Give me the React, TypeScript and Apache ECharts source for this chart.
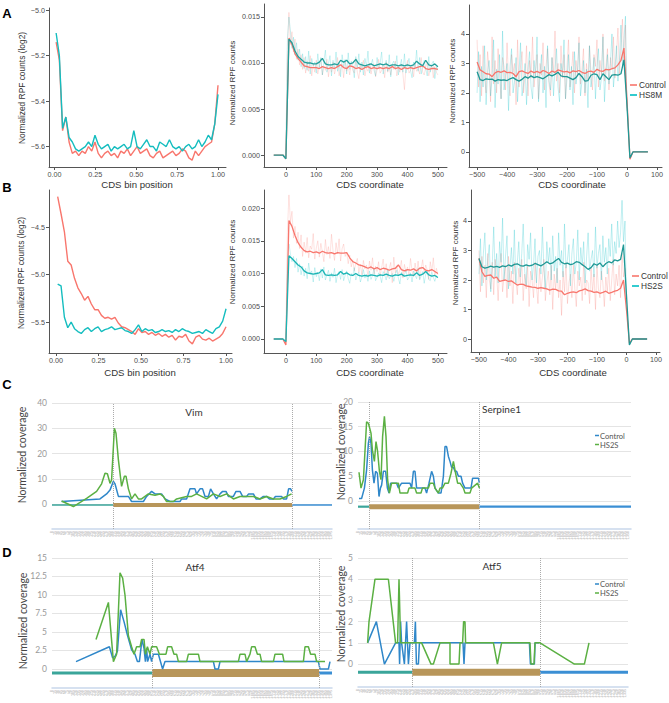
import React, { useEffect, useRef } from 'react';
import * as echarts from 'echarts';

// ---------- colours ----------
const RED = '#F8766D';
const TEAL = '#00BFC4';
const TEAL_DK = '#1F9895';
const BLUE = '#2F87C9';
const GREEN = '#5BB043';
const CDS_BROWN = '#B8965A';
const UTR5 = '#3AA59A';
const UTR3 = '#3B8FD4';

// ---------- helpers for x positions (bins / nucleotide grid) ----------
const seq = (start: number, step: number, n: number) =>
  Array.from({ length: n }, (_, i) => +(start + i * step).toFixed(4));
const zip = (xs: number[], ys: number[]) => ys.map((y, i) => [xs[i], y]);

// ---------- Panel A/B left: CDS bins ----------
const binPos = seq(0.01, 0.0198, 51);
const a1Control = [-5.14, -5.22, -5.53, -5.47, -5.58, -5.63, -5.62, -5.64, -5.62, -5.63, -5.60, -5.62, -5.58, -5.63, -5.65, -5.63, -5.62, -5.64, -5.63, -5.65, -5.62, -5.63, -5.61, -5.64, -5.62, -5.60, -5.63, -5.62, -5.61, -5.64, -5.65, -5.63, -5.62, -5.65, -5.64, -5.63, -5.62, -5.64, -5.63, -5.61, -5.62, -5.65, -5.66, -5.62, -5.64, -5.62, -5.60, -5.59, -5.58, -5.50, -5.33];
const a1HS8M = [-5.10, -5.20, -5.52, -5.47, -5.56, -5.58, -5.61, -5.62, -5.61, -5.60, -5.58, -5.60, -5.55, -5.59, -5.61, -5.60, -5.59, -5.62, -5.60, -5.61, -5.60, -5.59, -5.61, -5.60, -5.53, -5.60, -5.61, -5.59, -5.57, -5.60, -5.60, -5.62, -5.58, -5.59, -5.60, -5.57, -5.60, -5.61, -5.60, -5.62, -5.60, -5.59, -5.61, -5.60, -5.57, -5.60, -5.58, -5.55, -5.57, -5.50, -5.37];
const b1Control = [-4.18, -4.36, -4.55, -4.86, -4.90, -5.04, -5.14, -5.20, -5.27, -5.23, -5.31, -5.37, -5.37, -5.43, -5.46, -5.45, -5.47, -5.45, -5.51, -5.55, -5.56, -5.58, -5.60, -5.63, -5.57, -5.61, -5.60, -5.63, -5.61, -5.64, -5.62, -5.65, -5.63, -5.66, -5.64, -5.69, -5.65, -5.66, -5.63, -5.70, -5.73, -5.66, -5.64, -5.68, -5.69, -5.67, -5.70, -5.68, -5.66, -5.62, -5.55];
const b1HS2S = [-5.10, -5.12, -5.45, -5.56, -5.50, -5.57, -5.60, -5.62, -5.58, -5.56, -5.60, -5.57, -5.55, -5.60, -5.58, -5.57, -5.55, -5.58, -5.57, -5.56, -5.59, -5.60, -5.62, -5.58, -5.53, -5.60, -5.57, -5.59, -5.58, -5.61, -5.60, -5.58, -5.60, -5.59, -5.61, -5.58, -5.60, -5.57, -5.59, -5.60, -5.62, -5.61, -5.60, -5.62, -5.58, -5.60, -5.62, -5.57, -5.55, -5.49, -5.36];

// ---------- Panel A/B middle: start-codon aligned ----------
const startPos = seq(-40, 10, 55);
const a2Control = [0, 0, 0, 0, -0.0004, 0.0127, 0.0120, 0.0110, 0.0105, 0.0101, 0.0097, 0.0096, 0.0095, 0.0095, 0.0095, 0.0094, 0.0096, 0.0095, 0.0094, 0.0095, 0.0094, 0.0096, 0.0098, 0.0095, 0.0094, 0.0097, 0.0096, 0.0094, 0.0095, 0.0093, 0.0095, 0.0096, 0.0094, 0.0095, 0.0094, 0.0095, 0.0094, 0.0095, 0.0094, 0.0096, 0.0094, 0.0095, 0.0093, 0.0095, 0.0094, 0.0095, 0.0094, 0.0095, 0.0096, 0.0097, 0.0094, 0.0093, 0.0094, 0.0094, 0.0093];
const a2HS8M = [0, 0, 0, 0, -0.0004, 0.0126, 0.0122, 0.0113, 0.0107, 0.0104, 0.0101, 0.0100, 0.0100, 0.0099, 0.0099, 0.0101, 0.0105, 0.0099, 0.0098, 0.0098, 0.0099, 0.0098, 0.0103, 0.0101, 0.0103, 0.0099, 0.0100, 0.0104, 0.0099, 0.0098, 0.0097, 0.0098, 0.0099, 0.0097, 0.0098, 0.0099, 0.0098, 0.0099, 0.0097, 0.0098, 0.0098, 0.0097, 0.0098, 0.0097, 0.0098, 0.0097, 0.0098, 0.0102, 0.0099, 0.0097, 0.0103, 0.0098, 0.0097, 0.0099, 0.0096];
const b2Control = [0, 0, 0, 0, -0.0009, 0.0181, 0.0172, 0.0158, 0.0147, 0.0140, 0.0135, 0.0133, 0.0134, 0.0132, 0.0133, 0.0131, 0.0134, 0.0132, 0.0131, 0.0132, 0.0130, 0.0132, 0.0131, 0.0131, 0.0132, 0.0124, 0.0118, 0.0116, 0.0113, 0.0112, 0.0110, 0.0108, 0.0110, 0.0107, 0.0109, 0.0106, 0.0108, 0.0107, 0.0105, 0.0107, 0.0108, 0.0113, 0.0106, 0.0104, 0.0106, 0.0105, 0.0107, 0.0104, 0.0108, 0.0109, 0.0105, 0.0104, 0.0106, 0.0103, 0.0100];
const b2HS2S = [0, 0, 0, 0, -0.0004, 0.0127, 0.0123, 0.0118, 0.0113, 0.0110, 0.0104, 0.0101, 0.0100, 0.0099, 0.0100, 0.0101, 0.0106, 0.0098, 0.0097, 0.0098, 0.0097, 0.0098, 0.0103, 0.0099, 0.0101, 0.0098, 0.0097, 0.0100, 0.0097, 0.0096, 0.0097, 0.0096, 0.0098, 0.0097, 0.0096, 0.0098, 0.0097, 0.0099, 0.0097, 0.0096, 0.0098, 0.0097, 0.0099, 0.0096, 0.0097, 0.0098, 0.0097, 0.0101, 0.0097, 0.0099, 0.0103, 0.0098, 0.0096, 0.0097, 0.0094];

// raw per-nucleotide traces (per mille), x = 0, 5, 10 ... 500
const PER_MILLE = 1000;
const a2ControlRaw = [0.3, 11.8, 15.5, 12.0, 13.4, 11.2, 12.6, 10.4, 11.5, 9.8, 10.9, 9.3, 10.6, 8.9, 10.2, 9.1, 10.8, 8.6, 9.9, 9.0, 10.3, 8.8, 9.7, 10.5, 8.7, 9.6, 9.2, 10.4, 8.5, 9.8, 9.0, 10.1, 8.8, 9.5, 10.6, 8.6, 9.3, 9.9, 8.4, 10.2, 9.1, 9.7, 8.7, 10.0, 9.2, 8.9, 10.5, 9.0, 8.3, 9.8, 9.4, 10.3, 8.6, 9.5, 9.1, 10.0, 8.8, 9.6, 9.9, 8.5, 9.3, 10.4, 8.9, 9.2, 9.7, 8.4, 10.1, 9.0, 9.5, 8.7, 9.8, 9.3, 10.2, 8.6, 9.4, 9.0, 9.9, 8.8, 7.1, 9.6, 10.3, 8.9, 9.2, 9.7, 8.5, 10.0, 9.1, 9.4, 8.8, 10.6, 9.0, 8.7, 9.5, 10.1, 8.6, 9.3, 9.8, 8.4, 9.6, 9.0, 8.7];
const a2HS8MRaw = [0.2, 12.5, 15.0, 13.5, 11.6, 12.8, 10.9, 12.2, 10.3, 11.5, 9.6, 11.0, 9.4, 10.7, 9.2, 11.3, 8.8, 10.5, 9.7, 10.1, 8.9, 11.0, 9.5, 10.6, 8.7, 10.2, 11.4, 9.0, 9.9, 10.8, 8.6, 10.3, 9.4, 11.2, 9.1, 10.0, 8.5, 10.9, 9.6, 10.4, 8.8, 11.1, 9.3, 10.2, 9.8, 8.4, 10.7, 9.5, 11.0, 9.0, 10.1, 8.7, 10.5, 9.6, 11.3, 8.9, 9.8, 10.4, 9.2, 8.6, 10.6, 9.4, 10.0, 11.2, 8.8, 9.7, 10.3, 9.1, 10.9, 8.5, 9.9, 10.2, 9.3, 10.8, 8.7, 9.6, 10.4, 9.0, 11.0, 8.9, 9.8, 10.5, 9.2, 8.4, 10.1, 9.5, 11.4, 9.1, 10.6, 8.8, 9.7, 10.3, 9.4, 8.6, 10.7, 9.0, 9.9, 10.2, 8.3, 9.6, 9.2];
const b2ControlRaw = [0.2, 16.5, 22.0, 17.8, 19.5, 15.4, 17.2, 14.6, 16.3, 13.8, 15.9, 12.6, 14.8, 13.1, 15.5, 12.4, 14.2, 13.7, 16.1, 12.2, 13.9, 15.0, 12.5, 14.6, 13.3, 11.8, 15.2, 12.9, 14.1, 12.3, 16.0, 13.5, 12.0, 14.7, 13.0, 15.3, 11.9, 13.8, 14.5, 12.6, 13.2, 11.5, 12.8, 11.0, 12.1, 10.4, 11.6, 12.3, 10.2, 11.4, 9.8, 12.0, 10.7, 11.3, 9.5, 11.9, 10.5, 12.4, 9.9, 11.1, 10.3, 11.8, 9.6, 10.9, 12.2, 10.0, 11.5, 9.4, 10.8, 11.7, 8.6, 12.5, 10.1, 11.2, 9.7, 10.6, 12.0, 9.3, 11.4, 10.2, 11.0, 9.8, 12.3, 10.4, 9.5, 11.6, 10.0, 11.9, 9.2, 10.7, 12.1, 9.9, 11.3, 10.5, 9.1, 11.8, 10.3, 12.4, 9.6, 10.8, 9.8];
const b2HS2SRaw = [0.1, 12.0, 14.5, 13.0, 11.8, 12.6, 10.9, 12.3, 10.2, 11.5, 9.8, 11.1, 9.6, 10.8, 9.2, 11.6, 9.9, 10.4, 8.7, 10.9, 9.5, 10.2, 8.9, 10.7, 9.3, 11.0, 9.0, 9.8, 10.5, 8.8, 10.1, 9.4, 10.8, 8.6, 9.9, 10.3, 9.1, 10.6, 8.9, 9.7, 10.4, 9.2, 8.5, 10.0, 9.6, 10.9, 9.0, 9.8, 10.2, 8.7, 9.5, 10.6, 9.3, 9.9, 8.8, 10.4, 9.1, 9.7, 10.8, 8.9, 9.4, 10.1, 9.6, 8.6, 10.3, 9.8, 9.0, 10.7, 9.2, 9.6, 10.0, 8.8, 9.9, 10.5, 9.3, 8.4, 10.2, 9.5, 9.8, 10.6, 9.0, 9.4, 10.1, 8.7, 10.4, 9.7, 9.2, 10.8, 9.0, 9.6, 10.3, 8.5, 9.9, 10.5, 9.1, 8.9, 10.2, 9.4, 8.8, 9.7, 9.3];

// ---------- Panel A/B right: stop-codon aligned ----------
const stopPos = seq(-500, 10, 58);
const a3Control = [3.05, 2.78, 2.72, 2.65, 2.64, 2.55, 2.68, 2.73, 2.70, 2.75, 2.69, 2.70, 2.66, 2.55, 2.72, 2.75, 2.70, 2.66, 2.74, 2.69, 2.73, 2.68, 2.76, 2.72, 2.66, 2.74, 2.70, 2.78, 2.75, 2.71, 2.73, 2.68, 2.75, 2.72, 2.76, 2.70, 2.66, 2.72, 2.74, 2.70, 2.80, 2.75, 2.73, 2.80, 2.78, 2.82, 2.85, 2.95, 3.10, 3.52, 1.8, -0.25, 0, 0, 0, 0, 0, 0];
const a3HS8M = [2.72, 2.45, 2.42, 2.48, 2.46, 2.47, 2.40, 2.45, 2.43, 2.44, 2.42, 2.48, 2.52, 2.45, 2.40, 2.46, 2.55, 2.50, 2.58, 2.52, 2.55, 2.52, 2.48, 2.55, 2.62, 2.58, 2.63, 2.70, 2.58, 2.55, 2.55, 2.50, 2.45, 2.52, 2.66, 2.55, 2.40, 2.42, 2.60, 2.65, 2.62, 2.45, 2.65, 2.55, 2.45, 2.60, 2.62, 2.60, 2.65, 3.12, 1.6, -0.2, 0, 0, 0, 0, 0, 0];
const b3Control = [2.73, 2.28, 2.12, 2.16, 2.17, 2.06, 2.10, 1.95, 1.98, 2.00, 1.95, 1.97, 1.90, 1.83, 1.86, 1.85, 1.80, 1.78, 1.76, 1.75, 1.72, 1.74, 1.72, 1.70, 1.66, 1.69, 1.68, 1.63, 1.62, 1.50, 1.55, 1.58, 1.60, 1.57, 1.63, 1.66, 1.70, 1.64, 1.62, 1.58, 1.60, 1.55, 1.58, 1.62, 1.55, 1.58, 1.62, 1.65, 1.72, 2.00, 1.0, -0.15, 0, 0, 0, 0, 0, 0];
const b3HS2S = [2.73, 2.45, 2.40, 2.43, 2.47, 2.44, 2.46, 2.43, 2.48, 2.45, 2.51, 2.47, 2.53, 2.55, 2.49, 2.47, 2.51, 2.48, 2.50, 2.56, 2.52, 2.48, 2.54, 2.62, 2.55, 2.58, 2.66, 2.73, 2.60, 2.55, 2.57, 2.52, 2.55, 2.62, 2.60, 2.52, 2.45, 2.36, 2.42, 2.55, 2.50, 2.58, 2.45, 2.56, 2.62, 2.58, 2.68, 2.65, 2.70, 3.20, 1.5, -0.2, 0, 0, 0, 0, 0, 0];

// raw traces, x = -500, -495 ... 0
const a3ControlRaw = [3.8, 2.2, 3.3, 1.9, 3.6, 2.5, 2.0, 3.4, 2.8, 1.7, 3.9, 2.3, 3.1, 2.0, 3.5, 2.6, 1.8, 3.2, 2.9, 2.1, 3.7, 2.4, 1.9, 3.3, 2.7, 3.0, 1.6, 3.8, 2.2, 2.9, 3.4, 2.0, 2.6, 3.6, 1.9, 3.1, 2.5, 3.9, 2.2, 2.8, 3.3, 1.8, 3.0, 2.6, 3.7, 2.1, 2.9, 3.5, 2.3, 1.9, 3.2, 2.7, 4.1, 2.4, 3.0, 2.0, 3.6, 2.5, 3.3, 1.8, 2.9, 3.8, 2.2, 2.7, 3.4, 2.0, 3.1, 2.6, 3.9, 2.3, 2.8, 3.5, 1.9, 3.0, 2.4, 3.6, 2.7, 2.1, 3.3, 2.9, 3.8, 2.2, 3.1, 2.6, 4.0, 2.4, 2.9, 3.5, 2.1, 3.2, 2.8, 3.9, 2.5, 3.3, 4.2, 2.6, 3.6, 4.5, 3.0, 4.3, 1.5];
const a3HS8MRaw = [2.0, 3.4, 1.7, 2.9, 2.2, 3.6, 1.6, 2.7, 3.1, 1.9, 2.5, 3.8, 1.5, 2.8, 2.3, 3.3, 1.8, 4.1, 2.1, 2.6, 3.0, 1.4, 2.9, 3.5, 2.0, 2.4, 3.2, 1.7, 2.7, 3.7, 1.9, 2.3, 3.0, 1.6, 2.8, 3.4, 2.2, 1.8, 3.1, 2.5, 3.9, 1.7, 2.6, 3.3, 2.0, 2.9, 1.5, 3.6, 2.4, 2.1, 3.2, 1.9, 2.8, 3.5, 2.2, 1.7, 3.0, 2.6, 3.8, 1.8, 2.5, 3.3, 2.1, 2.9, 1.6, 3.4, 2.3, 2.7, 3.7, 1.9, 2.4, 3.1, 2.0, 2.8, 1.5, 3.6, 2.2, 2.6, 3.2, 1.8, 2.9, 3.5, 2.1, 2.5, 3.9, 1.7, 2.7, 3.3, 2.3, 3.0, 4.0, 2.2, 2.8, 3.6, 2.4, 3.1, 4.3, 2.9, 3.8, 4.6, 1.4];
const b3ControlRaw = [3.0, 1.6, 2.8, 1.9, 2.5, 1.4, 2.9, 2.0, 1.7, 2.6, 1.5, 2.7, 2.2, 1.3, 2.4, 2.9, 1.6, 2.1, 2.5, 1.4, 2.8, 1.8, 2.3, 1.2, 2.6, 2.0, 1.5, 2.4, 1.9, 2.7, 1.3, 2.2, 1.7, 2.5, 1.1, 2.3, 2.0, 1.4, 2.6, 1.8, 1.2, 2.4, 1.6, 2.1, 2.7, 1.3, 1.9, 2.3, 1.5, 2.5, 1.0, 2.2, 1.7, 2.4, 1.4, 2.0, 0.8, 2.3, 1.6, 2.6, 1.2, 1.9, 2.2, 1.4, 2.5, 1.7, 1.1, 2.3, 1.8, 2.1, 1.3, 2.6, 1.5, 2.0, 1.9, 1.2, 2.4, 1.6, 2.2, 1.0, 2.5, 1.7, 1.4, 2.3, 1.9, 1.1, 2.1, 1.6, 2.4, 1.3, 2.0, 2.7, 1.5, 2.2, 1.8, 2.5, 1.4, 2.9, 2.1, 2.4, 1.0];
const b3HS2SRaw = [2.2, 3.4, 1.8, 2.9, 3.6, 2.0, 2.7, 3.2, 1.6, 2.5, 3.8, 2.1, 2.9, 1.9, 3.3, 2.6, 4.1, 2.0, 2.8, 3.5, 1.7, 2.4, 3.1, 2.2, 3.7, 1.9, 2.6, 3.3, 2.1, 2.9, 3.9, 2.3, 1.8, 3.2, 2.7, 3.6, 2.0, 2.5, 3.4, 1.9, 2.8, 3.0, 2.2, 3.8, 2.4, 1.7, 3.3, 2.6, 3.1, 2.0, 3.5, 2.3, 2.8, 1.9, 3.6, 2.5, 3.0, 2.1, 3.9, 2.4, 2.7, 3.2, 1.8, 2.9, 3.4, 2.2, 2.6, 3.7, 2.0, 3.1, 2.5, 3.3, 1.9, 2.8, 3.6, 2.3, 2.7, 3.0, 2.1, 3.8, 2.4, 2.9, 3.2, 2.0, 3.5, 2.6, 3.1, 2.2, 3.4, 2.8, 3.9, 2.5, 3.3, 2.9, 4.0, 3.1, 3.6, 4.7, 3.3, 4.0, 1.2];

// ---------- Panels C/D: coverage along transcripts [position, coverage] ----------
const vimControl = [[48, 1], [240, 2], [273, 4], [290, 5.5], [307, 9], [315, 8], [332, 3], [382, 3], [398, 1], [457, 1], [473, 3], [498, 5], [515, 4], [548, 4], [565, 2], [590, 1], [640, 1], [648, 2], [673, 2], [690, 6], [715, 6], [723, 4], [740, 6], [753, 6], [765, 3], [782, 3], [793, 6], [807, 4], [823, 2], [840, 4], [853, 5], [870, 5], [882, 3], [907, 3], [920, 5], [940, 5], [953, 3], [973, 3], [983, 4], [1007, 4], [1020, 2], [1040, 2], [1057, 3], [1073, 3], [1087, 2], [1107, 2], [1117, 3], [1148, 3], [1157, 2], [1173, 2], [1183, 6], [1193, 6], [1200, 5]];
const vimHS2S = [[48, 1.2], [107, -1], [173, 2.2], [223, 5], [248, 8], [265, 12.2], [277, 12], [290, 8.2], [298, 9.5], [312, 30], [320, 28], [332, 17.5], [348, 7], [362, 11], [370, 11], [382, 6], [398, 2], [415, 4], [432, 2], [448, 2], [465, 3], [482, 4], [515, 3.5], [540, 4], [557, 3], [573, 1], [607, 1], [623, 2], [673, 3], [698, 3], [723, 4], [748, 3], [773, 2], [807, 4], [840, 3], [873, 4], [907, 2], [940, 3], [1007, 3], [1040, 2], [1073, 3], [1107, 2], [1140, 2], [1173, 3], [1198, 4]];
const serpControl = [[5, 0.5], [18, 0.5], [32, 2.6], [43, 6.3], [52, 11.7], [58, 13], [65, 11.7], [72, 6.3], [80, 3.6], [88, 6], [97, 5.6], [105, 0.9], [112, 2.6], [118, 3.2], [127, 6], [138, 6], [147, 2.6], [155, 1.6], [163, 3.6], [193, 3.6], [202, 2.6], [218, 3.6], [260, 3.6], [268, 2.6], [277, 6], [285, 6], [293, 2.6], [335, 2.6], [343, 1.6], [355, 3.6], [368, 6], [377, 5], [385, 2.6], [402, 1.6], [415, 1.6], [427, 5], [435, 11], [443, 11], [452, 9], [460, 8], [468, 6.8], [477, 6.8], [485, 6], [493, 6], [502, 5], [515, 5], [523, 3.6], [535, 2.6], [565, 2.6], [573, 4.6], [602, 4.6], [607, 3.6]];
const serpHS2S = [[5, 5.8], [15, 2.6], [27, 4.3], [43, 16], [52, 15.7], [65, 13.7], [72, 10.3], [82, 8], [90, 12], [98, 10], [107, 6], [115, 4.3], [123, 13], [132, 17.1], [140, 13], [148, 4.3], [157, 1.6], [168, 3.6], [202, 3.6], [210, 1.6], [248, 1.6], [255, 2.6], [285, 2.6], [293, 1.6], [315, 1.6], [322, 2.6], [352, 2.6], [360, 3.6], [377, 3.6], [385, 2.6], [402, 1.6], [410, 2.6], [422, 2.6], [435, 3.6], [452, 3.6], [465, 5.6], [477, 8], [488, 5.6], [498, 3.6], [510, 3.6], [527, 2.6], [535, 1.6], [560, 1.6], [568, 2.6], [598, 3.6], [607, 2.6]];
const atf4Control = [[120, 1], [287, 3], [303, 1.5], [315, 1.7], [327, 2.4], [343, 8], [360, 6.4], [377, 4.6], [398, 2.6], [415, 2], [427, 1], [437, 1], [450, 4], [460, 2.8], [467, 1], [473, 2.8], [478, 1], [490, 2], [498, 1], [507, 2], [532, 2], [553, 0], [565, 1], [807, 1], [815, 0], [832, 0], [840, 1], [1332, 1], [1340, 0], [1382, 0], [1390, 1]];
const atf4HS2S = [[220, 4], [282, 9], [307, 1], [323, 2], [340, 13], [353, 12.3], [365, 10], [382, 4.5], [398, 3], [410, 2], [423, 3], [440, 3], [448, 4], [460, 4], [467, 2], [477, 3], [490, 2], [498, 3], [523, 3], [537, 2], [570, 2], [578, 3], [598, 3], [610, 2], [623, 2], [632, 1], [673, 1], [682, 2], [732, 2], [740, 1], [932, 1], [940, 2], [965, 2], [973, 1], [990, 2], [998, 3], [1015, 3], [1027, 2], [1040, 2], [1048, 1], [1107, 1], [1115, 2], [1153, 2], [1160, 1], [1257, 1], [1265, 3], [1282, 3], [1293, 2], [1315, 2], [1323, 1], [1365, 1]];
const atf5Control = [[48, 1], [92, 2], [132, 0], [188, 1], [205, 1], [208, 0], [213, 2], [218, 1], [232, 0], [243, 2], [252, 0], [260, 1], [282, 1], [287, 2], [292, 0], [302, 0], [307, 1], [525, 1], [530, 0], [535, 1], [857, 1], [862, 0], [882, 0], [885, 1], [905, 1]];
const atf5HS2S = [[48, 1], [55, 2], [85, 4], [152, 4], [188, 1], [198, 1], [205, 4], [213, 1], [318, 1], [365, 0], [377, 0], [410, 1], [460, 1], [460, 0], [505, 0], [510, 1], [523, 1], [528, 2], [535, 2], [538, 1], [677, 1], [697, 0], [718, 1], [860, 1], [865, 0], [880, 0], [885, 1], [910, 1], [1082, 0], [1132, 0], [1155, 1]];

// transcript models: [length, cdsStart, cdsEnd, trackLevel]
const vimModel = [1400, 305, 1200, -0.4];
const serpModel = [1365, 55, 605, -1.15];
const atf4Model = [1400, 500, 1335, -0.54];
const atf5Model = [1350, 270, 910, -0.38];

// tick labels
const binTicks = [0, 0.25, 0.5, 0.75, 1];
const a1YTicks = [-5.6, -5.4, -5.2, -5.0];
const b1YTicks = [-5.5, -5.0, -4.5];
const startXTicks = [0, 100, 200, 300, 400, 500];
const a2YTicks = [0, 0.005, 0.01, 0.015];
const b2YTicks = [0, 0.005, 0.01, 0.015, 0.02];
const stopXTicks = [-500, -400, -300, -200, -100, 0, 100];
const stopYTicks = [0, 1, 2, 3, 4];
const vimYTicks = [0, 10, 20, 30, 40];
const serpYTicks = [0, 5, 10, 15, 20];
const atf4YTicks = [0, 2.5, 5, 7.5, 10, 12.5, 15];
const atf5YTicks = [0, 1, 2, 3, 4, 5];

const minus = (s: string) => s.replace('-', '\u2212');
const AX = '#555555';
const GG_FONT = 'Liberation Sans';
const XL_FONT = 'Lato';
const TITLE_COLOR = '#333333';

function buildOption() {
  const grids: any[] = [];
  const xAxes: any[] = [];
  const yAxes: any[] = [];
  const series: any[] = [];
  const graphic: any[] = [];

  const ggPanel = (g: any) => {
    const i = grids.length;
    grids.push({ left: g.left, top: g.top, width: g.width, height: g.height });
    xAxes.push({
      type: 'value', gridIndex: i, min: g.xMin, max: g.xMax,
      axisLine: { show: true, onZero: false, lineStyle: { color: AX, width: 1 } },
      axisTick: { show: true, length: 3, customValues: g.xTicks, lineStyle: { color: AX } },
      axisLabel: { customValues: g.xTicks, fontSize: 7.2, color: '#4d4d4d', margin: 4, fontFamily: GG_FONT, formatter: g.xFmt },
      splitLine: { show: false },
    });
    yAxes.push({
      type: 'value', gridIndex: i, min: g.yMin, max: g.yMax,
      axisLine: { show: true, onZero: false, lineStyle: { color: AX, width: 1 } },
      axisTick: { show: true, length: 3, customValues: g.yTicks, lineStyle: { color: AX } },
      axisLabel: { customValues: g.yTicks, fontSize: 7.2, color: '#4d4d4d', margin: 4, fontFamily: GG_FONT, formatter: g.yFmt },
      splitLine: { show: false },
    });
    return i;
  };
  const line = (i: number, data: any[], color: string, width: number, opacity = 1, z = 2) => {
    series.push({
      type: 'line', xAxisIndex: i, yAxisIndex: i, data, symbol: 'none', silent: true, z,
      lineStyle: { color, width, opacity }, itemStyle: { color },
    });
  };
  const txt = (text: string, x: number, y: number, o: any = {}) => {
    graphic.push({
      type: 'text', x, y, rotation: o.rot || 0, silent: true, z: 100,
      style: {
        text, fill: o.color || TITLE_COLOR, fontSize: o.size || 9.6, fontFamily: o.family || GG_FONT,
        fontWeight: o.weight || 'normal', align: o.align || 'center', verticalAlign: 'middle',
      },
    });
  };
  const legendItem = (x: number, y: number, color: string, label: string, o: any) => {
    graphic.push({ type: 'line', silent: true, z: 100, shape: { x1: x, y1: y, x2: x + o.len, y2: y }, style: { stroke: color, lineWidth: o.lw } });
    txt(label, x + o.len + o.gap, y, { align: 'left', size: o.size, color: o.color, family: o.family });
  };
  const fmt2 = (v: number) => minus(v.toFixed(2));
  const fmt1 = (v: number) => minus(v.toFixed(1));
  const fmt3 = (v: number) => v.toFixed(3);
  const fmtInt = (v: number) => minus(String(Math.round(v)));

  // ---------- A1 ----------
  const a1 = ggPanel({ left: 49, top: 8, width: 177, height: 159, xMin: -0.0336, xMax: 1.0489, yMin: -5.69, yMax: -4.99, xTicks: binTicks, yTicks: a1YTicks, xFmt: fmt2, yFmt: fmt1 });
  line(a1, zip(binPos, a1Control), RED, 1.4, 1, 3);
  line(a1, zip(binPos, a1HS8M), '#14BDBF', 1.4, 1, 4);
  // ---------- A2 ----------
  const a2 = ggPanel({ left: 264, top: 4, width: 183, height: 163, xMin: -72, xMax: 530, yMin: -0.0013, yMax: 0.01641, xTicks: startXTicks, yTicks: a2YTicks, xFmt: fmtInt, yFmt: fmt3 });
  line(a2, zip(seq(0, 5, a2ControlRaw.length), a2ControlRaw.map(v => v / PER_MILLE)), RED, 0.7, 0.3, 1);
  line(a2, zip(seq(0, 5, a2HS8MRaw.length), a2HS8MRaw.map(v => v / PER_MILLE)), TEAL, 0.7, 0.3, 1);
  line(a2, zip(startPos, a2Control), RED, 1.3, 1, 3);
  line(a2, zip(startPos, a2HS8M), '#23A09C', 1.3, 1, 4);
  // ---------- A3 ----------
  const a3 = ggPanel({ left: 469, top: 5, width: 193, height: 162, xMin: -527, xMax: 117, yMin: -0.51, yMax: 4.98, xTicks: stopXTicks, yTicks: stopYTicks, xFmt: fmtInt, yFmt: fmtInt });
  line(a3, zip(seq(-500, 5, a3ControlRaw.length), a3ControlRaw), RED, 0.7, 0.35, 1);
  line(a3, zip(seq(-500, 5, a3HS8MRaw.length), a3HS8MRaw), TEAL, 0.7, 0.35, 1);
  line(a3, zip(stopPos, a3Control), RED, 1.3, 1, 3);
  line(a3, zip(stopPos, a3HS8M), TEAL_DK, 1.3, 1, 4);
  // ---------- B1 ----------
  const b1 = ggPanel({ left: 49, top: 190, width: 183, height: 163, xMin: -0.041, xMax: 1.035, yMin: -5.826, yMax: -4.11, xTicks: binTicks, yTicks: b1YTicks, xFmt: fmt2, yFmt: fmt1 });
  line(b1, zip(binPos, b1Control), RED, 1.4, 1, 3);
  line(b1, zip(binPos, b1HS2S), '#14BDBF', 1.4, 1, 4);
  // ---------- B2 ----------
  const b2 = ggPanel({ left: 264, top: 190, width: 183, height: 163, xMin: -72, xMax: 530, yMin: -0.00214, yMax: 0.02275, xTicks: startXTicks, yTicks: b2YTicks, xFmt: fmtInt, yFmt: fmt3 });
  line(b2, zip(seq(0, 5, b2ControlRaw.length), b2ControlRaw.map(v => v / PER_MILLE)), RED, 0.7, 0.3, 1);
  line(b2, zip(seq(0, 5, b2HS2SRaw.length), b2HS2SRaw.map(v => v / PER_MILLE)), TEAL, 0.7, 0.3, 1);
  line(b2, zip(startPos, b2Control), RED, 1.3, 1, 3);
  line(b2, zip(startPos, b2HS2S), '#1AB5B5', 1.3, 1, 4);
  // ---------- B3 ----------
  const b3 = ggPanel({ left: 471, top: 190, width: 189, height: 162, xMin: -527, xMax: 113.7, yMin: -0.44, yMax: 5.05, xTicks: stopXTicks, yTicks: stopYTicks, xFmt: fmtInt, yFmt: fmtInt });
  line(b3, zip(seq(-500, 5, b3ControlRaw.length), b3ControlRaw), RED, 0.7, 0.35, 1);
  line(b3, zip(seq(-500, 5, b3HS2SRaw.length), b3HS2SRaw), TEAL, 0.7, 0.35, 1);
  line(b3, zip(stopPos, b3Control), RED, 1.3, 1, 3);
  line(b3, zip(stopPos, b3HS2S), TEAL_DK, 1.3, 1, 4);

  // ggplot titles
  txt('Normalized RPF counts (log2)', 22, 88, { rot: Math.PI / 2, size: 8.4 });
  txt('CDS bin position', 137, 184, { size: 9.6 });
  txt('Normalized RPF counts', 232, 83, { rot: Math.PI / 2, size: 8 });
  txt('CDS coordinate', 370, 184, { size: 9.6 });
  txt('Normalized RPF counts', 452, 81, { rot: Math.PI / 2, size: 8 });
  txt('CDS coordinate', 572, 184, { size: 9.6 });
  txt('Normalized RPF counts (log2)', 21, 273, { rot: Math.PI / 2, size: 8.4 });
  txt('CDS bin position', 140, 372, { size: 9.6 });
  txt('Normalized RPF counts', 232, 262, { rot: Math.PI / 2, size: 8 });
  txt('CDS coordinate', 370, 372, { size: 9.6 });
  txt('Normalized RPF counts', 455, 263, { rot: Math.PI / 2, size: 8 });
  txt('CDS coordinate', 573, 372, { size: 9.6 });
  const ggLeg = { len: 7, gap: 2, lw: 1.6, size: 8.3, color: '#333', family: GG_FONT };
  legendItem(630, 85, RED, 'Control', ggLeg);
  legendItem(630, 95, TEAL, 'HS8M', ggLeg);
  legendItem(632, 276, RED, 'Control', ggLeg);
  legendItem(632, 286, TEAL, 'HS2S', ggLeg);

  // ---------- coverage panels ----------
  const covPanel = (g: any, model: number[], ctl: number[][], hs: number[][], t: any) => {
    const i = grids.length;
    const [len, cs, ce, lvl] = model;
    grids.push({ left: g.left, top: g.top, width: g.width, height: g.height });
    xAxes.push({
      type: 'value', gridIndex: i, min: 0, max: len, interval: 15,
      axisLine: { show: true, onZero: false, lineStyle: { color: '#C9D8EC', width: 1.5 } },
      axisTick: { show: false },
      axisLabel: { show: true, rotate: 90, fontSize: 3.4, color: '#9a9a9a', margin: 2, fontFamily: XL_FONT, showMaxLabel: false },
      splitLine: { show: false },
    });
    yAxes.push({
      type: 'value', gridIndex: i, min: g.yMin, max: g.yMax,
      axisLine: { show: false, onZero: false },
      axisTick: { show: false, customValues: g.yTicks },
      axisLabel: { customValues: g.yTicks, color: '#9a9a9a', fontSize: 8.5, margin: 5, fontFamily: XL_FONT },
      splitLine: { show: true, lineStyle: { color: '#E4E4E4', width: 1 } },
    });
    const base = { type: 'line', xAxisIndex: i, yAxisIndex: i, symbol: 'none', silent: true };
    series.push({ ...base, z: 2, data: [[0, lvl], [cs, lvl]], lineStyle: { color: UTR5, width: g.utrW } });
    series.push({ ...base, z: 2, data: [[ce, lvl], [len, lvl]], lineStyle: { color: UTR3, width: g.utrW } });
    series.push({
      ...base, z: 3, data: [[cs, lvl], [ce, lvl]], lineStyle: { color: CDS_BROWN, width: g.cdsW },
      markLine: {
        symbol: 'none', silent: true, label: { show: false },
        lineStyle: { type: 'dotted', color: '#ABABAB', width: 1 },
        data: [{ xAxis: cs }, { xAxis: ce }],
      },
    });
    series.push({ ...base, z: 4, data: ctl, lineStyle: { color: BLUE, width: 1.5 } });
    series.push({ ...base, z: 5, data: hs, lineStyle: { color: GREEN, width: 1.5 } });
    txt(t.name, t.x, t.y, { size: 10, family: XL_FONT, color: '#333', align: t.align || 'center' });
    txt('Normalized coverage', t.yx, t.yy, { rot: Math.PI / 2, size: 10.5, family: XL_FONT, color: '#444' });
    if (t.leg) {
      const o = { len: 4, gap: 1, lw: 1.5, size: 7.6, color: '#555', family: XL_FONT };
      legendItem(t.leg[0], t.leg[1], BLUE, 'Control', o);
      legendItem(t.leg[0], t.leg[2], GREEN, 'HS2S', o);
    }
  };

  covPanel({ left: 52, top: 403, width: 280, height: 126, yMin: -9.9, yMax: 40, yTicks: vimYTicks, utrW: 1.5, cdsW: 4 },
    vimModel, vimControl, vimHS2S, { name: 'Vim', x: 194, y: 412, yx: 22, yy: 455 });
  covPanel({ left: 358, top: 402, width: 273, height: 127, yMin: -5.66, yMax: 20, yTicks: serpYTicks, utrW: 2.2, cdsW: 5 },
    serpModel, serpControl, serpHS2S, { name: 'Serpine1', x: 482, y: 409, align: 'left', yx: 341, yy: 452, leg: [595, 435.5, 444.5] });
  covPanel({ left: 52, top: 558, width: 280, height: 130, yMin: -2.57, yMax: 15, yTicks: atf4YTicks, utrW: 3, cdsW: 8 },
    atf4Model, atf4Control, atf4HS2S, { name: 'Atf4', x: 195, y: 567, yx: 23, yy: 621 });
  covPanel({ left: 358, top: 558, width: 270, height: 129, yMin: -1.08, yMax: 5, yTicks: atf5YTicks, utrW: 3, cdsW: 7 },
    atf5Model, atf5Control, atf5HS2S, { name: 'Atf5', x: 492, y: 566, yx: 341, yy: 614, leg: [595, 584, 593] });

  // panel letters
  txt('A', 7, 13, { size: 13, weight: 'bold', color: '#000' });
  txt('B', 7, 187, { size: 13, weight: 'bold', color: '#000' });
  txt('C', 7, 384, { size: 13, weight: 'bold', color: '#000' });
  txt('D', 7, 552, { size: 13, weight: 'bold', color: '#000' });

  return {
    animation: false,
    backgroundColor: '#ffffff',
    textStyle: { fontFamily: GG_FONT },
    grid: grids,
    xAxis: xAxes,
    yAxis: yAxes,
    series,
    graphic,
  };
}

export default function App() {
  const ref = useRef<HTMLDivElement>(null);
  useEffect(() => {
    const chart = echarts.init(ref.current as HTMLDivElement, null, { renderer: 'svg' });
    chart.setOption(buildOption() as any);
    return () => chart.dispose();
  }, []);
  return (
    <div
      ref={ref}
      style={{ position: 'absolute', left: 0, top: 0, width: 669, height: 703, background: '#fff' }}
    />
  );
}
